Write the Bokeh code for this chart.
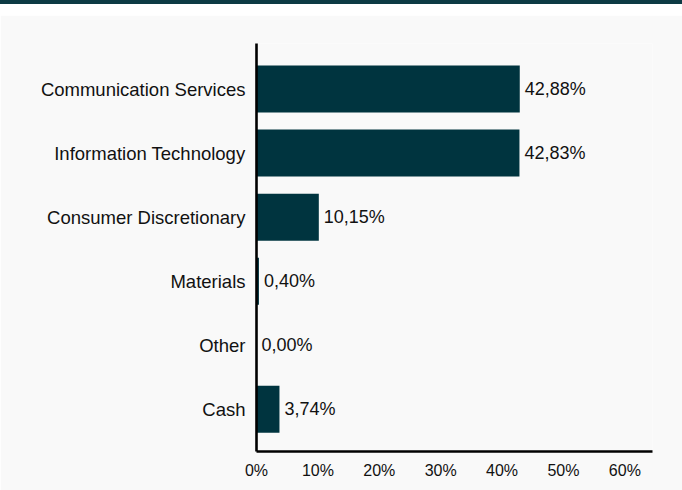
from bokeh.plotting import figure
from bokeh.models import Range1d, FixedTicker, ColumnDataSource, Div, Spacer
from bokeh.layouts import column
from bokeh.embed import file_html
from bokeh.resources import INLINE
from bokeh.core.properties import value

categories = ["Communication Services", "Information Technology", "Consumer Discretionary",
              "Materials", "Other", "Cash"]
weights = [42.88, 42.83, 10.15, 0.40, 0.00, 3.74]
x_ticks = [0, 10, 20, 30, 40, 50, 60]
x_tick_labels = ["0%", "10%", "20%", "30%", "40%", "50%", "60%"]

BAR = "#00343f"
BG = "#f9f9f9"
FONT = "Liberation Sans"
W = 682

idx = list(range(len(categories)))
labels = [f"{w:.2f}".replace(".", ",") + "%" for w in weights]
src = ColumnDataSource(dict(y=idx, w=weights, lab=labels, cat=categories))

p = figure(width=W, height=475, output_backend="svg", toolbar_location=None,
           x_range=Range1d(0, 64.5), y_range=Range1d(5.66, -0.712),
           min_border_left=256, min_border_right=30, min_border_top=28, min_border_bottom=39)
p.background_fill_color = BG
p.border_fill_color = BG
p.outline_line_color = None
p.grid.visible = False

p.hbar(y="y", left=0, right="w", height=0.734, source=src, color=BAR, line_color=None)
p.text(x="w", y="y", text="lab", source=src, x_offset=5, text_baseline="middle",
       text_align="left", text_font=value(FONT), text_font_size="18px", text_color="#111111")

for ax in (p.xaxis[0], p.yaxis[0]):
    ax.axis_line_color = "#000000"
    ax.axis_line_width = 2.6
    ax.major_tick_line_color = None
    ax.minor_tick_line_color = None
    ax.major_tick_out = 0
    ax.major_tick_in = 0
    ax.major_label_text_font = FONT
    ax.major_label_text_color = "#111111"

p.xaxis.ticker = FixedTicker(ticks=x_ticks)
p.xaxis.major_label_overrides = {t: l for t, l in zip(x_ticks, x_tick_labels)}
p.xaxis.major_label_text_font_size = "16px"
p.xaxis.major_label_standoff = 10

p.yaxis.ticker = FixedTicker(ticks=idx)
p.yaxis.major_label_overrides = {i: c for i, c in zip(idx, categories)}
p.yaxis.major_label_text_font_size = "18.5px"
p.yaxis.major_label_standoff = 11

top_line = Div(text="", width=W, height=4, margin=0, styles={"background-color": "#0d3a44"})
gap = Spacer(width=W, height=11, margin=0)

layout = column(top_line, gap, p, spacing=0)
open("out.html", "w").write(file_html(layout, INLINE))
